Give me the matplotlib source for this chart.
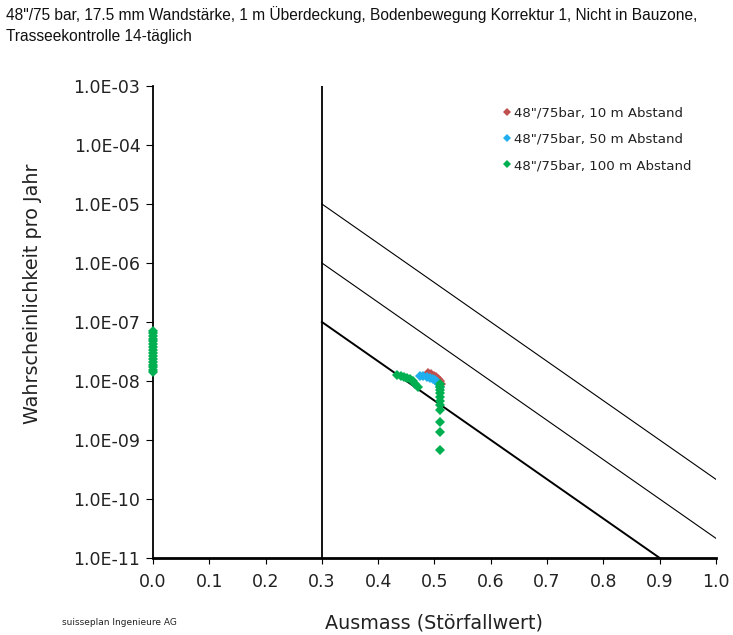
import matplotlib
matplotlib.use("Agg")
import matplotlib.pyplot as plt
from matplotlib.ticker import FixedLocator, FuncFormatter

plt.rcParams['font.family'] = ['DejaVu Sans']

# ---- data ----
title_text = ("48\"/75 bar, 17.5 mm Wandstärke, 1 m Überdeckung, Bodenbewegung Korrektur 1, "
              "Nicht in Bauzone,\nTrasseekontrolle 14-täglich")
series_labels = ['48"/75bar, 10 m Abstand', '48"/75bar, 50 m Abstand', '48"/75bar, 100 m Abstand']
series_colors = ['#C0504D', '#1FAFEF', '#00B050']

x_10 = [0.488, 0.494, 0.499, 0.503, 0.506, 0.509, 0.511]
y_10 = [1.35e-8, 1.3e-8, 1.22e-8, 1.15e-8, 1.07e-8, 9.8e-9, 9.0e-9]

x_50 = [0.474, 0.480, 0.486, 0.492, 0.497, 0.501, 0.505, 0.508, 0.510]
y_50 = [1.23e-8, 1.21e-8, 1.18e-8, 1.14e-8, 1.09e-8, 1.03e-8, 9.6e-9, 8.8e-9, 8.0e-9]

x_100 = [0.0] * 16 + [0.433, 0.440, 0.446, 0.452, 0.457, 0.462, 0.466, 0.470] + [0.51] * 11
y_100 = [7.0e-8, 6.4e-8, 5.8e-8, 5.2e-8, 4.7e-8, 4.2e-8, 3.8e-8, 3.4e-8, 3.0e-8, 2.7e-8,
         2.4e-8, 2.1e-8, 1.9e-8, 1.7e-8, 1.55e-8, 1.4e-8,
         1.26e-8, 1.23e-8, 1.19e-8, 1.14e-8, 1.08e-8, 1.0e-8, 9.0e-9, 8.0e-9,
         9.0e-9, 8.0e-9, 7.0e-9, 6.2e-9, 5.4e-9, 4.6e-9, 3.9e-9, 3.2e-9, 2.0e-9, 1.35e-9, 6.8e-10]

# criteria lines
vline_x = 0.3
crit_x = [[0.3, 1.0], [0.3, 1.0], [0.3, 0.9]]
crit_y = [[1e-5, 2.15e-10], [1e-6, 2.15e-11], [1e-7, 1e-11]]
crit_lw = [0.8, 0.8, 1.4]

x_ticks = [0.0, 0.1, 0.2, 0.3, 0.4, 0.5, 0.6, 0.7, 0.8, 0.9, 1.0]
y_ticks = [1e-11, 1e-10, 1e-9, 1e-8, 1e-7, 1e-6, 1e-5, 1e-4, 1e-3]
y_tick_labels = ['1.0E-11', '1.0E-10', '1.0E-09', '1.0E-08', '1.0E-07',
                 '1.0E-06', '1.0E-05', '1.0E-04', '1.0E-03']

text_color = '#222222'

# ---- figure ----
fig = plt.figure(figsize=(7.33, 6.35), dpi=100)
ax = fig.add_axes([0.2087, 0.1213, 0.7681, 0.7433])
ax.set_yscale('log')
ax.set_xlim(0, 1.0)
ax.set_ylim(1e-11, 1e-3)

ax.plot([vline_x, vline_x], [1e-11, 1e-3], color='black', lw=1.3, zorder=2)
for cx, cy, lw in zip(crit_x, crit_y, crit_lw):
    ax.plot(cx, cy, color='black', lw=lw, zorder=2)

for xs, ys, c, lab in zip([x_10, x_50, x_100], [y_10, y_50, y_100], series_colors, series_labels):
    ax.plot(xs, ys, linestyle='none', marker='D', markersize=5, color=c,
            markeredgewidth=0, label=lab, zorder=3, clip_on=False)

ax.yaxis.set_major_locator(FixedLocator(y_ticks))
ax.yaxis.set_minor_locator(FixedLocator([]))
ax.set_yticklabels(y_tick_labels)
ax.set_xticks(x_ticks)
ax.xaxis.set_major_formatter(FuncFormatter(lambda v, p: f"{v:.1f}"))
ax.tick_params(axis='y', which='major', length=5, width=0.8, labelsize=12.5,
               pad=4, labelcolor=text_color)
ax.tick_params(axis='x', which='major', length=4, width=0.8, labelsize=12.5,
               pad=7, labelcolor=text_color)

for s in ['top', 'right']:
    ax.spines[s].set_visible(False)
ax.spines['left'].set_linewidth(1.3)
ax.spines['bottom'].set_linewidth(2.0)

ax.set_ylabel('Wahrscheinlichkeit pro Jahr', fontsize=13.8, color=text_color)
ax.yaxis.set_label_coords(-0.197, 0.56)
ax.set_xlabel('Ausmass (Störfallwert)', fontsize=13.8, labelpad=16, color=text_color)

leg = ax.legend(loc='upper left', bbox_to_anchor=(0.6125, 0.968), frameon=False,
                fontsize=9.6, handlelength=0.6, handletextpad=0.25, labelspacing=1.0,
                markerscale=0.9, borderaxespad=0)
for t in leg.get_texts():
    t.set_color(text_color)

fig.text(0.008, 0.99, title_text, ha='left', va='top', fontsize=11.2,
         family=['Liberation Sans'], linespacing=1.45, color='#111111')
fig.text(0.085, 0.013, 'suisseplan Ingenieure AG', fontsize=6.5, ha='left', va='bottom',
         color=text_color)

fig.savefig('out.png', dpi=100)
